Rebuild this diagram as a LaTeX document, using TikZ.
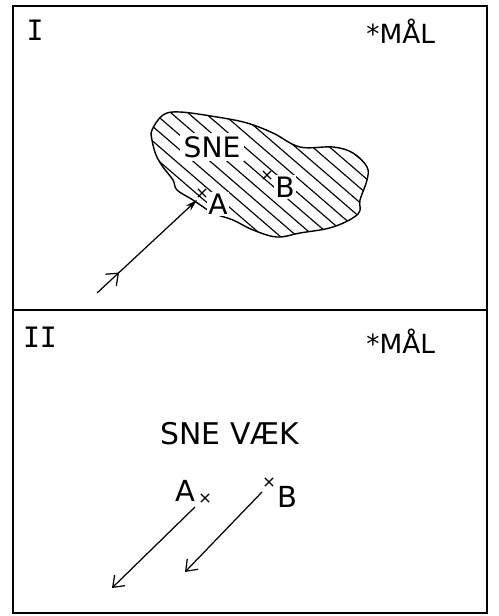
\documentclass[tikz,border=0pt]{standalone}
\usepackage{fontspec}
\setsansfont{DejaVu Sans}
\setmonofont{DejaVu Sans Mono}
\usetikzlibrary{arrows.meta,decorations.markings,shapes.misc}
\tikzset{
  xmark/.style={cross out, draw, minimum size=0.14cm, inner sep=0pt, line width=0.7pt},
  lbl/.style={font=\sffamily, inner sep=1pt},
  path/.style={line width=0.7pt},
}
\begin{document}
\begin{tikzpicture}[x=0.02cm, y=-0.02cm, line width=0.8pt]
\useasboundingbox (0,0) rectangle (498,616);
% frames
\draw (13,6) rectangle (487,613);
\draw (13,310) -- (487,310);
\node[font=\ttfamily\fontsize{16}{16}\selectfont] (one) at (35,30) {I};
\node[font=\ttfamily\fontsize{16}{16}\selectfont, inner sep=0pt] (two) at (40,337) {II};
\node[lbl, anchor=base west, font=\sffamily\fontsize{15}{15}\selectfont] (goal1) at (364,43) {*MÅL};
\node[lbl, anchor=base west, font=\sffamily\fontsize{15}{15}\selectfont] (goal2) at (364,353) {*MÅL};
% snow patch
\begin{scope}
\clip plot[smooth cycle, tension=0.6] coordinates {(152,130) (163,115) (180,112) (217,117) (247,123) (273,133) (300,147) (333,147) (353,153) (367,167) (367,180) (360,200) (358,214) (333,227) (300,233) (277,237) (253,230) (233,220) (213,213) (193,200) (177,190) (173,180) (163,167) (156,155) (152,140)};
\foreach \i in {-13,...,13}
  \draw[line width=0.65pt] (260+\i*17-160,175-138) -- (260+\i*17+160,175+138);
\end{scope}
\draw plot[smooth cycle, tension=0.6] coordinates {(152,130) (163,115) (180,112) (217,117) (247,123) (273,133) (300,147) (333,147) (353,153) (367,167) (367,180) (360,200) (358,214) (333,227) (300,233) (277,237) (253,230) (233,220) (213,213) (193,200) (177,190) (173,180) (163,167) (156,155) (152,140)};
\node[lbl, fill=white, inner sep=2pt, font=\sffamily\fontsize{16}{16}\selectfont] (sne) at (212,147) {SNE};
\node[xmark, fill=white] (xa1) at (202,193) {};
\node[xmark, fill=white] (xb1) at (267,175) {};
\node[lbl, fill=white, font=\sffamily\fontsize{16}{16}\selectfont] (a1) at (218,204) {A};
\node[lbl, fill=white, font=\sffamily\fontsize{16}{16}\selectfont] (b1) at (285,187) {B};
% skier path I
\coordinate (start) at (97,293);
\coordinate (reach) at (197,200);
\draw[path, -{Stealth[length=2.4mm, width=1.4mm]},
  decoration={markings, mark=at position 0.22 with {\arrow{Straight Barb[length=2mm, width=3.2mm]}}},
  postaction={decorate}] (start) -- (reach);
% panel II
\node[lbl, anchor=base west, font=\sffamily\fontsize{17}{17}\selectfont] (gone) at (158,444) {SNE VÆK};
\node[lbl, font=\sffamily\fontsize{16.5}{16.5}\selectfont] (a2) at (185,491) {A};
\node[xmark] (xa2) at (205,498) {};
\node[xmark] (xb2) at (269,482) {};
\node[lbl, font=\sffamily\fontsize{16.5}{16.5}\selectfont] (b2) at (287,497) {B};
\coordinate (enda) at (112,588);
\coordinate (endb) at (185,572);
\draw[path, -{Straight Barb[length=2mm, width=3mm]}] (195,507) -- (enda);
\draw[path, -{Straight Barb[length=2mm, width=3mm]}] (262,492) -- (endb);
\end{tikzpicture}
\end{document}
